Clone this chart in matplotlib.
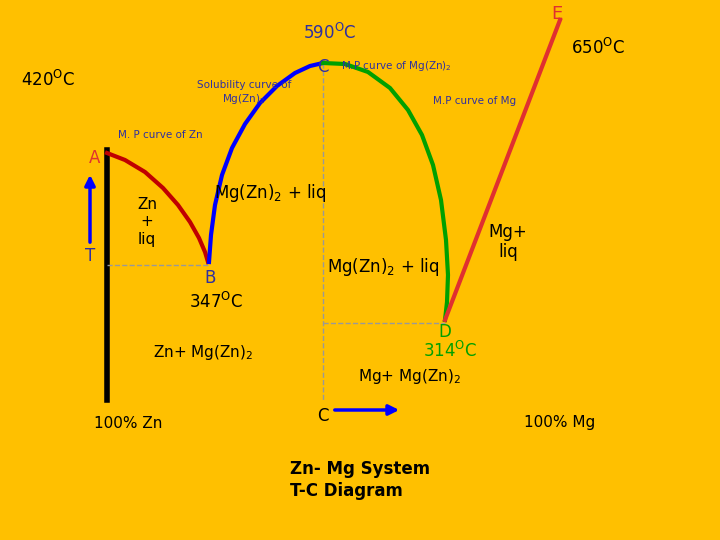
import matplotlib
matplotlib.use("Agg")
import matplotlib.pyplot as plt

# curve points (pixel coords, y downwards)
zn_x = [107, 125, 145, 163, 178, 190, 199, 205, 208]
zn_y = [153, 160, 172, 188, 205, 222, 238, 252, 262]
sol_x = [209, 211, 215, 222, 232, 245, 260, 277, 295, 310, 323]
sol_y = [262, 235, 205, 175, 148, 124, 103, 86, 73, 66, 63]
mgzn_x = [323, 345, 368, 390, 408, 422, 433, 441, 446, 448, 447, 445]
mgzn_y = [63, 64, 72, 88, 110, 135, 165, 200, 240, 275, 302, 320]
mg_x = [445, 560]
mg_y = [320, 20]

fig = plt.figure(figsize=(7.2, 5.4), dpi=100)
fig.patch.set_facecolor('#FFC000')
ax = fig.add_axes([0, 0, 1, 1])
ax.set_xlim(0, 720); ax.set_ylim(540, 0); ax.axis('off')
ax.set_facecolor('#FFC000')

ax.plot([107, 107], [150, 400], color='black', lw=4)
ax.plot([323, 323], [63, 400], color='#999999', lw=1, ls='--')
ax.plot([107, 209], [265, 265], color='#999999', lw=1, ls='--')
ax.plot([323, 445], [323, 323], color='#999999', lw=1, ls='--')
ax.plot(zn_x, zn_y, color='#C00000', lw=3)
ax.plot(sol_x, sol_y, color='blue', lw=3)
ax.plot(mgzn_x, mgzn_y, color='#00A000', lw=3)
ax.plot(mg_x, mg_y, color='#E03030', lw=3)

ax.annotate('', xy=(90, 172), xytext=(90, 245), arrowprops=dict(arrowstyle='-|>', color='blue', lw=2.5, mutation_scale=15))
ax.annotate('', xy=(402, 410), xytext=(332, 410), arrowprops=dict(arrowstyle='-|>', color='blue', lw=2.5, mutation_scale=15))

def t(x, y, s, size=11, color='black', **kw):
    ax.text(x, y, s, fontsize=size, color=color, ha='center', va='center', **kw)

t(330, 33, '590$^{\\mathrm{O}}$C', 12, '#3030A0')
t(557, 14, 'E', 13, '#E03030')
t(598, 48, '650$^{\\mathrm{O}}$C', 12)
t(48, 80, '420$^{\\mathrm{O}}$C', 12)
t(323, 67, 'C', 12, '#3030A0')
t(396, 66, 'M.P curve of Mg(Zn)$_2$', 7.5, '#3030A0')
t(244, 93, 'Solubility curve of\nMg(Zn)$_2$', 7.5, '#3030A0')
t(475, 101, 'M.P curve of Mg', 7.5, '#3030A0')
t(160, 135, 'M. P curve of Zn', 7.5, '#3030A0')
t(95, 158, 'A', 12, '#E03030')
t(90, 256, 'T', 12, '#3030A0')
t(147, 222, 'Zn\n+\nliq', 11)
t(270, 193, 'Mg(Zn)$_2$ + liq', 12)
t(383, 267, 'Mg(Zn)$_2$ + liq', 12)
t(508, 242, 'Mg+\nliq', 12)
t(210, 278, 'B', 12, '#3030A0')
t(216, 302, '347$^{\\mathrm{O}}$C', 12)
t(445, 332, 'D', 12, '#00A000')
t(450, 351, '314$^{\\mathrm{O}}$C', 12, '#00A000')
t(203, 353, 'Zn+ Mg(Zn)$_2$', 11)
t(410, 377, 'Mg+ Mg(Zn)$_2$', 11)
t(128, 423, '100% Zn', 11)
t(323, 416, 'C', 12)
t(560, 423, '100% Mg', 11)
ax.text(290, 480, 'Zn- Mg System\nT-C Diagram', fontsize=12, fontweight='bold', ha='left', va='center', linespacing=1.3)

fig.savefig('out.png', dpi=100, facecolor=fig.get_facecolor())
